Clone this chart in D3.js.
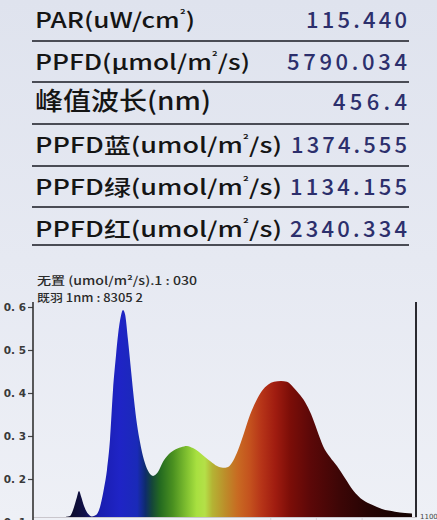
<!DOCTYPE html>
<html><head><meta charset="utf-8">
<script src="https://cdn.jsdelivr.net/npm/d3@7"></script>
<style>html,body{margin:0;padding:0;overflow:hidden;background:#e9ecf3}</style>
</head><body><svg id="c" width="437" height="520"></svg>
<script>
// ---- data ----
const rowLabels = ["PAR(uW/cm²)", "PPFD(μmol/m²/s)", "峰值波长(nm)", "PPFD蓝(umol/m²/s)", "PPFD绿(umol/m²/s)", "PPFD红(umol/m²/s)"];
const rowValues = ["115.440", "5790.034", "456.4", "1374.555", "1134.155", "2340.334"];
const headerLines = ["无置 (umol/m²/s).1 : 030", "既羽 1nm : 8305 2"];
const yTicks = [0.6, 0.5, 0.4, 0.3, 0.2, 0.1];
const xTicks = [620, 670, 720];
const xEndLabel = "1100";
const wavelengths = [396.1,400.5,403.8,408.1,410.3,412.5,415.8,420.2,424.5,428.9,433.3,437.7,440.9,444.2,447.5,450.8,453.0,456.3,458.4,460.6,463.9,467.2,470.5,473.8,477.0,481.4,485.8,491.3,496.7,502.2,507.7,514.2,521.9,528.4,535.0,541.6,548.1,554.7,561.3,567.8,573.3,578.8,584.2,590.8,597.3,603.9,610.5,617.0,623.6,631.3,637.8,644.4,650.9,657.5,664.1,670.6,677.2,684.8,692.5,701.3,710.0,720.9,730.8,741.7,755.9,766.9,774.5];
const intensity   = [0.112,0.114,0.128,0.158,0.172,0.160,0.137,0.119,0.113,0.116,0.135,0.179,0.221,0.291,0.407,0.488,0.535,0.581,0.593,0.584,0.523,0.453,0.384,0.326,0.286,0.244,0.219,0.207,0.216,0.240,0.256,0.267,0.274,0.277,0.272,0.263,0.251,0.240,0.230,0.226,0.228,0.242,0.267,0.307,0.349,0.381,0.405,0.419,0.426,0.428,0.426,0.414,0.398,0.379,0.351,0.314,0.277,0.251,0.230,0.202,0.174,0.151,0.140,0.130,0.124,0.121,0.120];
const stopWavelengths = [396,417,433,455,474,483,490,499,513,528,539,548,556,570,584,597,610,625,641,663,696,729,775];
const stopColors = ["#0a0a22","#10104a","#1a1eb0","#1f24c6","#1a2ab8","#0e2c6c","#14463a","#246a20","#4a9020","#80c030","#a8e040","#b4e048","#b4b434","#bc8e2a","#c86a22","#c4521e","#b63418","#a01c10","#7c0e08","#5c0808","#3c0606","#240404","#120202"];

// ---- layout ----
const W = 437, H = 520;
const rowBaselines = [28, 70, 110, 153, 195, 237];
const rowLines = [41, 82, 124, 166, 207, 245];
const rowFont = [21, 21, 25, 21, 21, 21];
const labelWidths = [160, 215, 176, 247, 247, 247];
const valueWidths = [101, 120, 74, 116, 117, 117];
const plotLeft = 33, plotRight = 417, plotTop = 302, plotBottom = 517;

const svg = d3.select("#c");
const defs = svg.append("defs");
const bg = defs.append("linearGradient").attr("id","bg").attr("x1",0).attr("y1",0).attr("x2",0).attr("y2",1);
bg.append("stop").attr("offset","0%").attr("stop-color","#dfe3ee");
bg.append("stop").attr("offset","50%").attr("stop-color","#e6e9f2");
bg.append("stop").attr("offset","100%").attr("stop-color","#eef0f6");
svg.append("rect").attr("width",W).attr("height",H).attr("fill","url(#bg)");

// table
const fontStack = "'Noto Sans CJK SC','Noto Sans',sans-serif";
function withSup(sel, str, size){
  const parts = str.split("²");
  const shift = size*0.42;
  sel.append("tspan").text(parts[0]);
  for (let j = 1; j < parts.length; j++) {
    sel.append("tspan").attr("font-size",size*0.55).attr("dy",-shift).text("²");
    sel.append("tspan").attr("dy",shift).text(parts[j]);
  }
}
rowLabels.forEach((lab,i)=>{
  const t = svg.append("text").attr("x",35).attr("y",rowBaselines[i])
    .attr("font-family",fontStack).attr("font-size",rowFont[i]).attr("font-weight",500).attr("fill","#151515")
    .attr("textLength",labelWidths[i]).attr("lengthAdjust","spacingAndGlyphs");
  withSup(t, lab, rowFont[i]);
  svg.append("text").attr("x",407 - valueWidths[i]).attr("y",rowBaselines[i])
    .attr("font-family",fontStack).attr("font-size",22).attr("font-weight",500).attr("fill","#2c2f6c")
    .attr("textLength",valueWidths[i]).attr("lengthAdjust","spacing").text(rowValues[i]);
});
svg.selectAll("line.sep").data(rowLines).join("line").attr("class","sep")
  .attr("x1",32).attr("x2",409).attr("y1",d=>d).attr("y2",d=>d)
  .attr("stroke","#4a4c55").attr("stroke-width",1.8);

// header lines in chart
const headerW = [160, 106];
headerLines.forEach((t,i)=>{
  svg.append("text").attr("x",37).attr("y",285 + i*17)
    .attr("font-family",fontStack).attr("font-size",11.5).attr("font-weight",500).attr("fill","#2a2a2a")
    .attr("textLength",headerW[i]).attr("lengthAdjust","spacingAndGlyphs").text(t);
});

// scales
const x = d3.scaleLinear().domain([360, 780]).range([plotLeft, plotRight]);
const y = d3.scaleLinear().domain([0.1, 0.6]).range([522, 307]);

// spectrum gradient
const sg = defs.append("linearGradient").attr("id","spec").attr("gradientUnits","userSpaceOnUse")
  .attr("x1",x(stopWavelengths[0])).attr("x2",x(stopWavelengths[stopWavelengths.length-1])).attr("y1",0).attr("y2",0);
stopWavelengths.forEach((w,i)=>{
  sg.append("stop").attr("offset",(w-stopWavelengths[0])/(stopWavelengths[stopWavelengths.length-1]-stopWavelengths[0]))
    .attr("stop-color",stopColors[i]);
});
defs.append("clipPath").attr("id","clip").append("rect")
  .attr("x",plotLeft).attr("y",plotTop-10).attr("width",plotRight-plotLeft).attr("height",plotBottom-plotTop+10);

const data = wavelengths.map((w,i)=>({w, v:intensity[i]}));
const area = d3.area().x(d=>x(d.w)).y0(plotBottom+4).y1(d=>y(d.v)).curve(d3.curveMonotoneX);
svg.append("path").datum(data).attr("d",area).attr("fill","url(#spec)").attr("clip-path","url(#clip)");

// x ticks (faint)
svg.selectAll("line.xt").data(xTicks).join("line").attr("class","xt")
  .attr("x1",d=>x(d)).attr("x2",d=>x(d)).attr("y1",plotBottom).attr("y2",H)
  .attr("stroke","#d8d8de").attr("stroke-width",1.2);
svg.append("line").attr("x1",plotLeft).attr("x2",plotRight).attr("y1",plotBottom+0.5).attr("y2",plotBottom+0.5)
  .attr("stroke","#c9c6cc").attr("stroke-width",1);

// y axis
const yAxis = d3.axisLeft(y).tickValues(yTicks).tickSize(5).tickFormat(d=>d3.format(".1f")(d).replace(".", ". "));
const ga = svg.append("g").attr("transform",`translate(${plotLeft},0)`).call(yAxis);
ga.select(".domain").remove();
ga.selectAll(".tick line").attr("stroke","#444").attr("stroke-width",1.2);
ga.selectAll(".tick text").attr("font-family","'DejaVu Sans',sans-serif").attr("font-size",10.5)
  .attr("font-weight","bold").attr("fill","#3a3a3a").attr("x",-7).style("white-space","pre");
svg.append("line").attr("x1",plotLeft).attr("x2",plotLeft).attr("y1",plotTop).attr("y2",H)
  .attr("stroke","#333").attr("stroke-width",1.6);
// right border
svg.append("line").attr("x1",416).attr("x2",416).attr("y1",plotTop).attr("y2",plotBottom)
  .attr("stroke","#2a2a30").attr("stroke-width",2);
svg.append("text").attr("x",420).attr("y",519).attr("font-family","'DejaVu Sans',sans-serif")
  .attr("font-size",7).attr("fill","#444").text(xEndLabel);
</script></body></html>
